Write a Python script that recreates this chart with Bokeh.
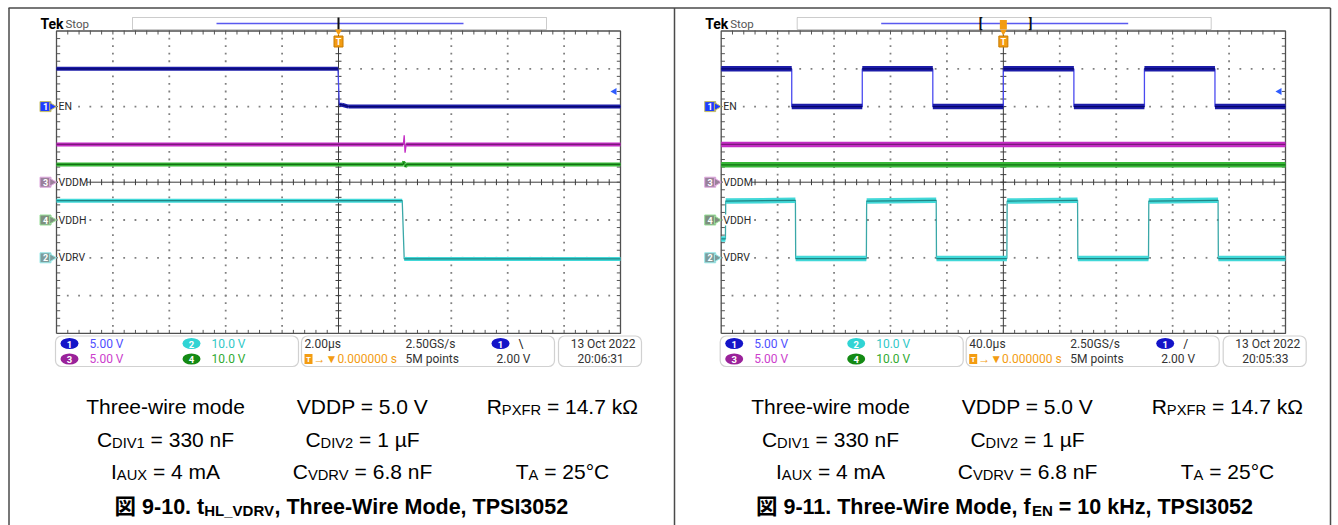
import numpy as np
from bokeh.plotting import figure
from bokeh.models import Range1d, BoxAnnotation
from bokeh.core.properties import value
from bokeh.embed import file_html
from bokeh.resources import INLINE

# ============================ data ============================
CH_NAMES = ["EN", "VDDM", "VDDH", "VDRV"]
CH_NUMBERS = [1, 3, 4, 2]
CH_V_PER_DIV = [5.0, 5.0, 10.0, 10.0]
CH_GROUND_DIV = [2.0, 0.0, -1.0, -2.0]
TRIG_LEVEL_V = 2.00

# Figure 9-10 : 2.00 us/div
L_T_PER_DIV = 2.0
L_EN_T = [-10.0, -0.02, 0.03, 0.12, 0.35, 10.0]
L_EN_V = [5.0, 5.0, 0.25, 0.25, 0.0, 0.0]
L_VDDM_T = [-10.0, 2.30, 2.33, 2.36, 2.40, 10.0]
L_VDDM_V = [5.0, 5.0, 6.2, 3.9, 5.0, 5.0]
L_VDDH_T = [-10.0, 2.30, 2.33, 2.36, 2.40, 10.0]
L_VDDH_V = [14.7, 14.7, 15.5, 14.0, 14.7, 14.7]
L_VDRV_T = [-10.0, 2.26, 2.33, 10.0]
L_VDRV_V = [15.1, 15.1, -0.3, -0.3]

# Figure 9-11 : 40.0 us/div, f_EN = 10 kHz
R_T_PER_DIV = 40.0
R_EN_T = [-200, -150, -150, -100, -100, -50, -50, 0, 0, 50, 50, 100, 100, 150, 150, 200]
R_EN_V = [5.0, 5.0, 0.0, 0.0, 5.0, 5.0, 0.0, 0.0, 5.0, 5.0, 0.0, 0.0, 5.0, 5.0, 0.0, 0.0]
R_VDDM_T = [-200, 200]
R_VDDM_V = [5.0, 5.0]
R_VDDH_T = [-200, 200]
R_VDDH_V = [14.6, 14.6]
R_VDRV_T = [-200, -197.0, -196.8, -147.4, -147.2, -97.1, -96.9, -47.6, -47.4,
            2.5, 2.7, 52.6, 52.8, 102.9, 103.1, 152.2, 152.4, 200]
R_VDRV_V = [5.0, 5.0, 15.0, 15.2, -0.2, -0.2, 15.0, 15.2, -0.2,
            -0.2, 15.0, 15.2, -0.2, -0.2, 15.0, 15.2, -0.2, -0.2]

SCALE_TEXT = {1: "5.00 V", 2: "10.0 V", 3: "5.00 V", 4: "10.0 V"}
L_TIMEBASE, R_TIMEBASE = "2.00µs", "40.0µs"
SAMPLE_RATE = "2.50GS/s"
RECORD = "5M points"
TRIG_POS = "0.000000 s"
TRIG_LEVEL_TXT = "2.00 V"
L_SLOPE, R_SLOPE = "\\", "/"
DATE = "13 Oct  2022"
L_CLOCK, R_CLOCK = "20:06:31", "20:05:33"

COND_ROWS = [
    [[("Three-wire mode", "n")], [("VDDP = 5.0 V", "n")], [("R", "n"), ("PXFR", "s"), (" = 14.7 kΩ", "n")]],
    [[("C", "n"), ("DIV1", "s"), (" = 330 nF", "n")], [("C", "n"), ("DIV2", "s"), (" = 1 µF", "n")], []],
    [[("I", "n"), ("AUX", "s"), (" = 4 mA", "n")], [("C", "n"), ("VDRV", "s"), (" = 6.8 nF", "n")], [("T", "n"), ("A", "s"), (" = 25°C", "n")]],
]
L_CAPTION = [("図 9-10. t", "n"), ("HL_VDRV", "s"), (", Three-Wire Mode, TPSI3052", "n")]
R_CAPTION = [("図 9-11. Three-Wire Mode, f", "n"), ("EN", "s"), (" = 10 kHz, TPSI3052", "n")]

# ============================ styling ============================
TRACE_STYLE = {
    "EN": ("#1c1ca8", "#06066e", "#4a4af0"),
    "VDDM": ("#c42cc4", "#7a1a7a", "#c42cc4"),
    "VDDH": ("#38b838", "#127012", "#38b838"),
    "VDRV": ("#42d8d8", "#1f8585", "#3aa8a8"),
}
MARK_STYLE = {1: ("#1f3cff", "#c8c060"), 3: ("#9a809a", "#e0a8e0"),
              4: ("#7e907e", "#98e098"), 2: ("#7c9c9c", "#98eaea")}
BADGE = {1: "#1414c8", 2: "#30d4d4", 3: "#9a229a", 4: "#148a14"}
SCALE_COL = {1: "#5050ff", 2: "#30c8c8", 3: "#cc40cc", 4: "#30aa30"}
ORANGE = "#f39c12"
UI_FONT = value("Roboto")
CAP_FONT = value("Liberation Sans, Noto Sans CJK JP")

REG_W = {' ': 278, '-': 333, '.': 278, ',': 278, '=': 584, '_': 556, '°': 400, 'µ': 576, 'Ω': 768,
         'A': 667, 'C': 722, 'D': 722, 'F': 611, 'H': 722, 'I': 278, 'L': 556, 'M': 833, 'N': 722,
         'P': 667, 'R': 722, 'S': 667, 'T': 611, 'U': 722, 'V': 667, 'W': 944, 'X': 667,
         'a': 556, 'd': 556, 'e': 556, 'h': 556, 'i': 222, 'k': 500, 'm': 833, 'n': 556, 'o': 556,
         'r': 333, 't': 278, 'w': 722, 'z': 500}
BOLD_W = {' ': 278, '-': 333, '.': 278, ',': 278, '=': 584, '_': 556, 'A': 722, 'C': 722, 'D': 722,
          'E': 667, 'H': 722, 'I': 278, 'L': 611, 'M': 833, 'N': 722, 'P': 667, 'R': 722, 'S': 667,
          'T': 611, 'V': 667, 'W': 944, 'a': 556, 'd': 611, 'e': 556, 'f': 333, 'h': 611, 'i': 278,
          'k': 556, 'o': 611, 'r': 389, 't': 333, 'z': 500, '図': 1000}


def tw(s, size, bold):
    d = BOLD_W if bold else REG_W
    return sum(d.get(c, 556) for c in s) / 1000.0 * size


W, H = 1338, 525
p = figure(width=W, height=H, x_range=Range1d(0, W), y_range=Range1d(H, 0),
           x_axis_type=None, y_axis_type=None, toolbar_location=None, output_backend="svg",
           min_border=0, outline_line_color=None, background_fill_color="white",
           border_fill_color="white")

# outer frame
p.segment(x0=[8, 8.5, 674, 1330], y0=[7.5, 7.5, 7.5, 7.5],
          x1=[1330, 8.5, 674, 1330], y1=[7.5, 525, 525, 525],
          line_color="#4a4a4a", line_width=1.5)


def txt(sp, x, y, s, size, color="#333333", align="left", base="middle", bold=False, font=UI_FONT):
    sp.text(x=[x], y=[y], text=[s], text_font=font, text_font_size=value(f"{size}px"),
            text_color=color, text_align=align, text_baseline=base,
            text_font_style="bold" if bold else "normal")


def runs(cx, y, rr, size, bold):
    sub = size * 0.7
    pieces = []
    total = 0.0
    for s, kind in rr:
        fs = size if kind == "n" else sub
        lead = 0.0
        if s.startswith(" "):
            lead = tw(" ", fs, bold)
            s = s.lstrip(" ")
        w = tw(s, fs, bold)
        pieces.append((s, kind, fs, lead))
        total += lead + w
    x = cx - total / 2
    for s, kind, fs, lead in pieces:
        x += lead
        yy = y if kind == "n" else y + size * 0.18
        txt(p, x, yy, s, round(fs, 1), color="#000000", base="alphabetic", bold=bold, font=CAP_FONT)
        x += tw(s, fs, bold)


def draw_trace(sp, t, v, vdiv, name, band_w):
    band, core, edge = TRACE_STYLE[name]
    t = np.asarray(t, dtype=float)
    v = np.asarray(v, dtype=float)
    sp.line(t, v, line_color=edge, line_width=1.3)
    xs, ys = [], []
    for i in range(len(t) - 1):
        if t[i + 1] > t[i] and abs(v[i + 1] - v[i]) / vdiv < 0.15:
            xs.append([t[i], t[i + 1]])
            ys.append([v[i], v[i + 1]])
    sp.multi_line(xs, ys, line_color=band, line_width=band_w)
    sp.multi_line(xs, ys, line_color=core, line_width=1.2)


GY_TOP, GY_BOT = 30.5, 332.9


def box(l, r, t, b, radius=0, lw=1.2, color="#666666"):
    p.add_layout(BoxAnnotation(left=l, right=r, top=t, bottom=b, fill_color=None,
                               line_color=color, line_width=lw, border_radius=radius,
                               level="underlay"))


def scope(gx0, gx1, t_per_div, traces, slope, timebase, clock, brackets, band_w):
    dx = gx0 - 56.0
    # ---------------- graticule
    g = p.subplot(x_source=Range1d(-5, 5), y_source=Range1d(-4, 4),
                  x_target=Range1d(gx0, gx1), y_target=Range1d(GY_BOT, GY_TOP))
    mx = np.arange(-25, 26) / 5.0
    my = np.arange(-20, 21) / 5.0
    dots_x, dots_y = [], []
    for xv in range(-4, 5):
        if xv == 0:
            continue
        for yv in my[1:-1]:
            dots_x.append(xv); dots_y.append(yv)
    for yv in range(-3, 4):
        if yv == 0:
            continue
        for xv in mx[1:-1]:
            dots_x.append(xv); dots_y.append(yv)
    g.scatter(dots_x, dots_y, marker="square", size=1.8, fill_color="#808080", line_color=None)
    g.segment(x0=[-5, 0], y0=[0, -4], x1=[5, 0], y1=[0, 4], line_color="#3c3c3c", line_width=1)
    g.scatter(mx[1:-1], np.zeros(len(mx) - 2), marker="dash", angle=np.pi / 2, size=6,
              line_color="#3c3c3c", line_width=1)
    g.scatter(np.zeros(len(my) - 2), my[1:-1], marker="dash", size=6, line_color="#3c3c3c", line_width=1)
    g.scatter(mx[1:-1], np.full(len(mx) - 2, 3.96), marker="dash", angle=np.pi / 2, size=4,
              line_color="#555555")
    g.scatter(mx[1:-1], np.full(len(mx) - 2, -3.96), marker="dash", angle=np.pi / 2, size=4,
              line_color="#555555")
    g.scatter(np.full(len(my) - 2, -4.97), my[1:-1], marker="dash", size=4, line_color="#555555")
    g.scatter(np.full(len(my) - 2, 4.97), my[1:-1], marker="dash", size=4, line_color="#555555")
    g.line([-5, 5, 5, -5, -5], [-4, -4, 4, 4, -4], line_color="#505050", line_width=1.3)

    # ---------------- channels
    tr = (-5 * t_per_div, 5 * t_per_div)
    subs = {}
    for name, num, vdiv, gnd in zip(CH_NAMES, CH_NUMBERS, CH_V_PER_DIV, CH_GROUND_DIV):
        yr = Range1d((-4 - gnd) * vdiv, (4 - gnd) * vdiv)
        subs[name] = (p.subplot(x_source=Range1d(*tr), y_source=yr,
                                x_target=Range1d(gx0, gx1), y_target=Range1d(GY_BOT, GY_TOP)),
                      p.subplot(x_source=p.x_range, y_source=yr,
                                x_target=p.x_range, y_target=Range1d(GY_BOT, GY_TOP)))
    for name in ["VDRV", "VDDH", "VDDM", "EN"]:
        t, v = traces[name]
        vdiv = CH_V_PER_DIV[CH_NAMES.index(name)]
        draw_trace(subs[name][0], t, v, vdiv, name, band_w)

    for name, num in zip(CH_NAMES, CH_NUMBERS):
        sp = subs[name][1]
        fill, border = MARK_STYLE[num]
        sp.rect(x=[gx0 - 11], y=[0], width=11, height=10, height_units="screen",
                fill_color=fill, line_color=border, line_width=1)
        sp.scatter(x=[gx0 - 4.5], y=[0], marker="triangle", angle=-np.pi / 2, size=8,
                   fill_color=fill, line_color=border, line_width=1)
        txt(sp, gx0 - 11, 0, str(num), 9, color="white", align="center", bold=True)
        lw = {"EN": 13, "VDDM": 29, "VDDH": 27, "VDRV": 27}[name]
        sp.rect(x=[gx0 + 1.5 + lw / 2], y=[0], width=lw, height=11, height_units="screen",
                fill_color="white", line_color=None)
        txt(sp, gx0 + 2, 0, name, 10.5, color="#2a2a2a")

    # trigger level arrow (ch1)
    en_sub = subs["EN"][1]
    en_sub.scatter(x=[gx1 - 6], y=[TRIG_LEVEL_V], marker="triangle", angle=np.pi / 2, size=7,
                   fill_color="#2f5cff", line_color=None)

    # ---------------- header
    txt(p, 40 + dx, 23, "Tek", 14, color="#000000", bold=True)
    txt(p, 65 + dx, 23, "Stop", 11.5, color="#555555")
    box(132 + dx, 546 + dx, 17, 29, lw=1, color="#555555")
    p.segment(x0=[216 + dx], y0=[23], x1=[463 + dx], y1=[23], line_color="#5a5af0", line_width=1.5)
    ts = p.subplot(x_source=Range1d(*tr), y_source=p.y_range,
                   x_target=Range1d(gx0, gx1), y_target=p.y_range)
    if brackets:
        txt(p, 980, 23, "[", 13, color="#111111", align="center", bold=True)
        txt(p, 1030, 23, "]", 13, color="#111111", align="center", bold=True)
        ts.rect(x=[0], y=[24], width=7, height=9, width_units="screen",
                fill_color=ORANGE, line_color=None)
    else:
        ts.segment(x0=[0], y0=[17], x1=[0], y1=[29], line_color="#111111", line_width=2)
    ts.scatter(x=[0], y=[31], marker="inverted_triangle", size=7, fill_color=ORANGE, line_color=None)
    ts.rect(x=[0], y=[41], width=9, height=11, width_units="screen", fill_color=ORANGE,
            line_color="#c77a00")
    txt(ts, 0, 41.5, "T", 9, color="white", align="center", bold=True)

    # ---------------- status bar
    for l, r in [(55, 298), (301, 554), (558, 641)]:
        box(l + dx, r + dx, 335.5, 366, radius=6)
    r1, r2 = 343, 358.5
    fs = 12
    for num, (bx, by) in {1: (69, r1), 2: (191, r1), 3: (69, r2), 4: (191, r2)}.items():
        p.ellipse(x=[bx + dx], y=[by], width=18, height=11, fill_color=BADGE[num], line_color=None)
        txt(p, bx + dx, by + 0.5, str(num), 9.5, color="white", align="center", bold=True)
        txt(p, bx + 20 + dx, by, SCALE_TEXT[num], fs, color=SCALE_COL[num])
    txt(p, 304 + dx, r1, timebase, fs)
    txt(p, 405 + dx, r1, SAMPLE_RATE, fs)
    p.ellipse(x=[500 + dx], y=[r1], width=18, height=11, fill_color=BADGE[1], line_color=None)
    txt(p, 500 + dx, r1 + 0.5, "1", 9.5, color="white", align="center", bold=True)
    txt(p, 518 + dx, r1, slope, fs, color="#222222")
    p.rect(x=[308 + dx], y=[r2], width=8, height=10, fill_color=ORANGE, line_color=None)
    txt(p, 308 + dx, r2 + 0.5, "T", 8, color="white", align="center", bold=True)
    txt(p, 313 + dx, r2, "→▼" + TRIG_POS, fs, color=ORANGE)
    txt(p, 405 + dx, r2, RECORD, fs)
    txt(p, 496 + dx, r2, TRIG_LEVEL_TXT, fs)
    txt(p, 638 + dx, r1, DATE, fs, align="right")
    txt(p, 577 + dx, r2, clock, fs)


scope(56.0, 620.0, L_T_PER_DIV,
      {"EN": (L_EN_T, L_EN_V), "VDDM": (L_VDDM_T, L_VDDM_V),
       "VDDH": (L_VDDH_T, L_VDDH_V), "VDRV": (L_VDRV_T, L_VDRV_V)},
      L_SLOPE, L_TIMEBASE, L_CLOCK, False, 4.0)
scope(720.7, 1285.0, R_T_PER_DIV,
      {"EN": (R_EN_T, R_EN_V), "VDDM": (R_VDDM_T, R_VDDM_V),
       "VDDH": (R_VDDH_T, R_VDDH_V), "VDRV": (R_VDRV_T, R_VDRV_V)},
      R_SLOPE, R_TIMEBASE, R_CLOCK, True, 5.5)

# ============================ captions ============================
COL_X = [165, 362, 562]
ROW_Y = [406, 439, 471]
for dx in [0, 665]:
    for row, yy in zip(COND_ROWS, ROW_Y):
        for cell, cx in zip(row, COL_X):
            if cell:
                runs(cx + dx, yy, cell, 21, False)
runs(341, 506, L_CAPTION, 21.5, True)
runs(1004, 506, R_CAPTION, 21.5, True)

open("out.html", "w").write(file_html(p, INLINE))
